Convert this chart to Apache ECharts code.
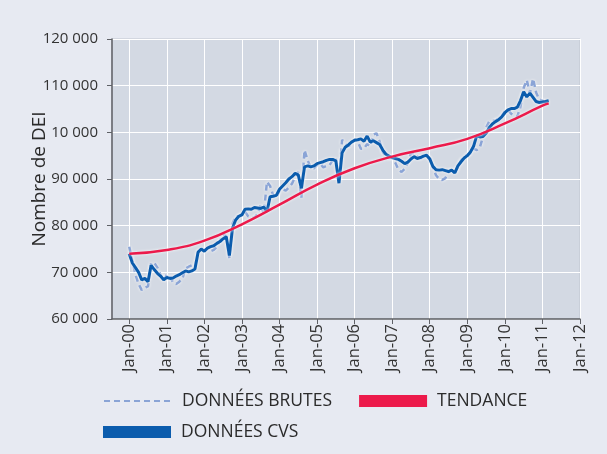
<!DOCTYPE html>
<html>
<head>
<meta charset="utf-8">
<script src="https://cdn.jsdelivr.net/npm/echarts@6/dist/echarts.min.js"></script>
<style>
  html, body { margin: 0; padding: 0; background: #e7eaf2; }
  #chart { width: 607px; height: 454px; }
</style>
</head>
<body>
<div id="chart"></div>
<script>
// mois depuis janvier 2000
var yearTicks = ['Jan-00', 'Jan-01', 'Jan-02', 'Jan-03', 'Jan-04', 'Jan-05', 'Jan-06',
                 'Jan-07', 'Jan-08', 'Jan-09', 'Jan-10', 'Jan-11', 'Jan-12'];
var yTicks = ['60 000', '70 000', '80 000', '90 000', '10 000', '110 000', '120 000'];

// données CVS, mensuelles, jan-00 -> mars-11
var cvs = [
  74000, 72000, 71000, 70000, 68400, 68700, 68000, 71500, 70600, 69800, 69200, 68400,
  68900, 68700, 68800, 69200, 69500, 69900, 70300, 70100, 70300, 70700, 74300, 75000,
  74500, 75200, 75500, 75700, 76200, 76600, 77200, 77600, 73600, 79500, 81200, 82000,
  82300, 83500, 83600, 83500, 83900, 83800, 83700, 84000, 83000, 86200, 86300, 86500,
  87800, 88500, 89200, 90000, 90500, 91200, 90900, 88000, 92600, 92800, 92600, 92800,
  93300, 93500, 93700, 94000, 94200, 94200, 93900, 89100, 95600, 96800, 97300, 97900,
  98300, 98400, 98600, 98100, 99200, 97900, 98200, 97800, 97400, 96200, 95300, 94900,
  94600, 94400, 94200, 93800, 93300, 93600, 94300, 94800, 94400, 94600, 94900, 95100,
  94300, 92700, 92000, 91900, 92000, 91800, 91600, 91900, 91300, 92800, 93700, 94500,
  95000, 95800, 97000, 99300, 99000, 99100, 99800, 101000, 101800, 102300, 102700, 103300,
  104200, 104800, 105100, 105100, 105400, 106800, 108700, 107600, 108400, 107500, 106600, 106400,
  106500, 106600, 106800
];

// données brutes
var brutes = [
  75500, 72500, 69500, 67500, 66200, 66700, 67000, 72000, 72000, 71000, 69500, 68200,
  69500, 69200, 67800, 67500, 68000, 68700, 70800, 71200, 71500, 71200, 74500, 74800,
  74800, 75000, 74500, 74800, 75500, 76800, 78000, 77800, 73000, 80500, 82000, 82000,
  82500, 83000, 82000, 81800, 81700, 82500, 84500, 82500, 89400, 88500, 86500, 86000,
  87500, 87800, 87500, 88200, 89000, 90500, 91500, 86000, 96200, 94000, 92500, 92300,
  93000, 93300, 92500, 92800, 93000, 94000, 94500, 89500, 98400, 97500, 97000, 97500,
  98500, 98000, 96500, 96500, 97500, 97000, 99500, 99800, 98000, 95800, 94800, 94500,
  94500, 93500, 92000, 91500, 92200, 93500, 95500, 95500, 94800, 94500, 94500, 94800,
  94500, 92500, 90800, 90000, 89800, 90200, 91500, 92000, 91300, 92500, 94000, 94800,
  95200, 95500, 96500, 96200, 96800, 99000, 101000, 102300, 102500, 102500, 103000, 103500,
  104500, 104800, 104000, 103500, 103400, 105500, 109500, 111200, 108400, 111500, 108500, 107000,
  106800, 106500, 107000
];

// tendance, relevée en début d'année (+ dernier point)
var tendanceMois = [0, 12, 24, 36, 48, 60, 72, 84, 96, 108, 120, 132, 134];
var tendance = [74000, 74800, 76800, 80300, 84500, 88800, 92300, 94800, 96600, 98600, 101900, 105700, 106200];

function pairs(vals, months) {
  return vals.map(function (v, i) { return [months ? months[i] : i, v]; });
}

var halo = { shadowColor: 'rgba(255,255,255,0.95)', shadowBlur: 3 };
var tickPos = yearTicks.map(function (t, i) { return i * 12; });
var legendText = { fontSize: 17.5, color: '#2b2b2b', fontFamily: 'Open Sans', padding: [0, 0, 0, 5] };

var myChart = echarts.init(document.getElementById('chart'));
myChart.setOption({
  backgroundColor: '#e7eaf2',
  animation: false,
  textStyle: { fontFamily: 'Open Sans', color: '#333' },
  grid: {
    left: 112, right: 27, top: 39, bottom: 135,
    show: true, backgroundColor: '#d3d9e3', borderColor: '#bfc5cf', borderWidth: 1
  },
  legend: [{
    left: 98, top: 387,
    itemWidth: 68, itemHeight: 12, itemGap: 27,
    textStyle: legendText,
    data: [{ name: 'DONNÉES BRUTES', itemStyle: { opacity: 0 } }, { name: 'TENDANCE', icon: 'rect' }]
  }, {
    left: 98, top: 418,
    itemWidth: 68, itemHeight: 12,
    textStyle: legendText,
    data: [{ name: 'DONNÉES CVS', icon: 'rect' }]
  }],
  xAxis: {
    type: 'value', min: -5.5, max: 144,
    axisLine: { lineStyle: { color: '#5f6166', width: 1.5 } },
    axisTick: { length: 5, customValues: tickPos, lineStyle: { color: '#5f6166' } },
    axisLabel: {
      customValues: tickPos,
      rotate: 90, fontSize: 16.5, color: '#333', margin: 5,
      formatter: function (v) { return yearTicks[Math.round(v / 12)]; }
    },
    splitLine: { show: true, lineStyle: { color: '#ffffff', width: 1 } }
  },
  yAxis: {
    type: 'value', min: 60000, max: 120000, interval: 10000,
    name: 'Nombre de DEI', nameLocation: 'middle', nameGap: 63, nameMoveOverlap: false,
    nameTextStyle: { fontSize: 19, color: '#2b2b2b' },
    axisLine: { show: true, onZero: false, lineStyle: { color: '#5f6166', width: 1.5 } },
    axisTick: { show: true, length: 5, lineStyle: { color: '#5f6166' } },
    axisLabel: {
      fontSize: 15, color: '#333', margin: 14,
      formatter: function (v) { return yTicks[Math.round((v - 60000) / 10000)]; }
    },
    splitLine: { show: true, lineStyle: { color: '#ffffff', width: 1 } }
  },
  series: [{
    name: 'DONNÉES BRUTES', type: 'line', symbol: 'none',
    data: pairs(brutes),
    lineStyle: Object.assign({ color: '#8aa4d6', width: 2.5, type: [6, 4] }, halo),
    itemStyle: { color: '#8aa4d6' }
  }, {
    name: 'DONNÉES CVS', type: 'line', symbol: 'none',
    data: pairs(cvs),
    lineStyle: Object.assign({ color: '#0b5cad', width: 3 }, halo),
    itemStyle: { color: '#0b5cad' }
  }, {
    name: 'TENDANCE', type: 'line', symbol: 'none', smooth: true,
    data: pairs(tendance, tendanceMois),
    lineStyle: Object.assign({ color: '#ec1a4b', width: 2.5 }, halo),
    itemStyle: { color: '#ec1a4b' }
  }]
});
</script>
</body>
</html>
